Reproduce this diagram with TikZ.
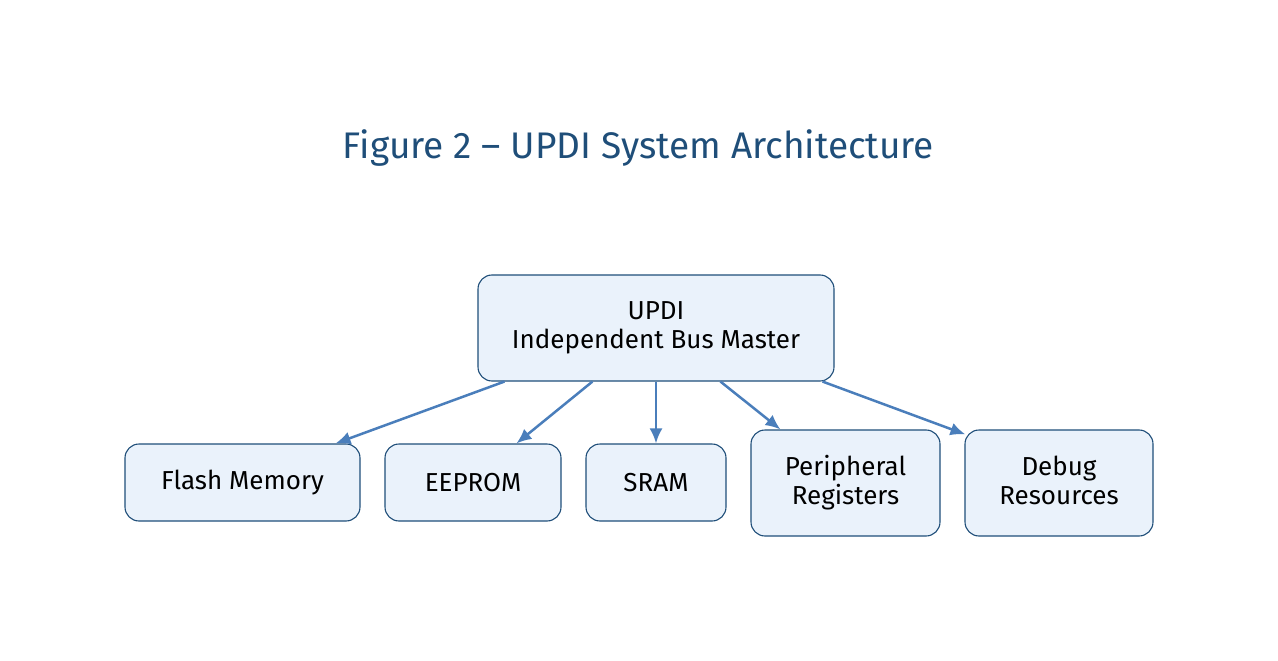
\documentclass[tikz,border=0pt]{standalone}
\usepackage{fontspec}
\setmainfont{Fira Sans}
\usetikzlibrary{arrows.meta,calc}
\definecolor{titleblue}{HTML}{1F4E79}
\definecolor{boxfill}{HTML}{EAF2FB}
\definecolor{boxline}{HTML}{1F4E79}
\definecolor{arrowblue}{HTML}{4A7EBB}
\begin{document}
\begin{tikzpicture}[x=1pt,y=-1pt,
  box/.style={draw=boxline,fill=boxfill,line width=1.1pt,rounded corners=14pt,
    align=center,inner sep=0pt,font=\fontsize{26}{29}\selectfont},
  arr/.style={draw=arrowblue,line width=2.5pt,-{Latex[length=15pt,width=13pt]}}]
\useasboundingbox (0,0) rectangle (1278,661);
\node[text=titleblue,font=\fontsize{37}{40}\selectfont] (title) at (638.5,148) {Figure 2 – UPDI System Architecture};
\node[box,minimum width=356pt,minimum height=106pt] (top) at (656,328) {UPDI\\Independent Bus Master};
\node[box,minimum width=235pt,minimum height=77pt] (flash) at (242.5,482.5) {Flash Memory};
\node[box,minimum width=176pt,minimum height=77pt] (eeprom) at (473,482.5) {EEPROM};
\node[box,minimum width=140pt,minimum height=77pt] (sram) at (656,482.5) {SRAM};
\node[box,minimum width=189pt,minimum height=106pt] (periph) at (845.5,483) {Peripheral\\Registers};
\node[box,minimum width=188pt,minimum height=106pt] (debug) at (1059,483) {Debug\\Resources\vphantom{g}};
\draw[arr] ([xshift=27pt]top.south west) -- ([xshift=-25pt]flash.north east);
\draw[arr] ([xshift=115pt]top.south west) -- ([xshift=132pt]eeprom.north west);
\draw[arr] (top.south) -- (sram.north);
\draw[arr] ([xshift=243pt]top.south west) -- ([xshift=30pt]periph.north west);
\draw[arr] ([xshift=-12pt]top.south east) -- ([xshift=1pt,yshift=-5pt]debug.north west);
\end{tikzpicture}
\end{document}
